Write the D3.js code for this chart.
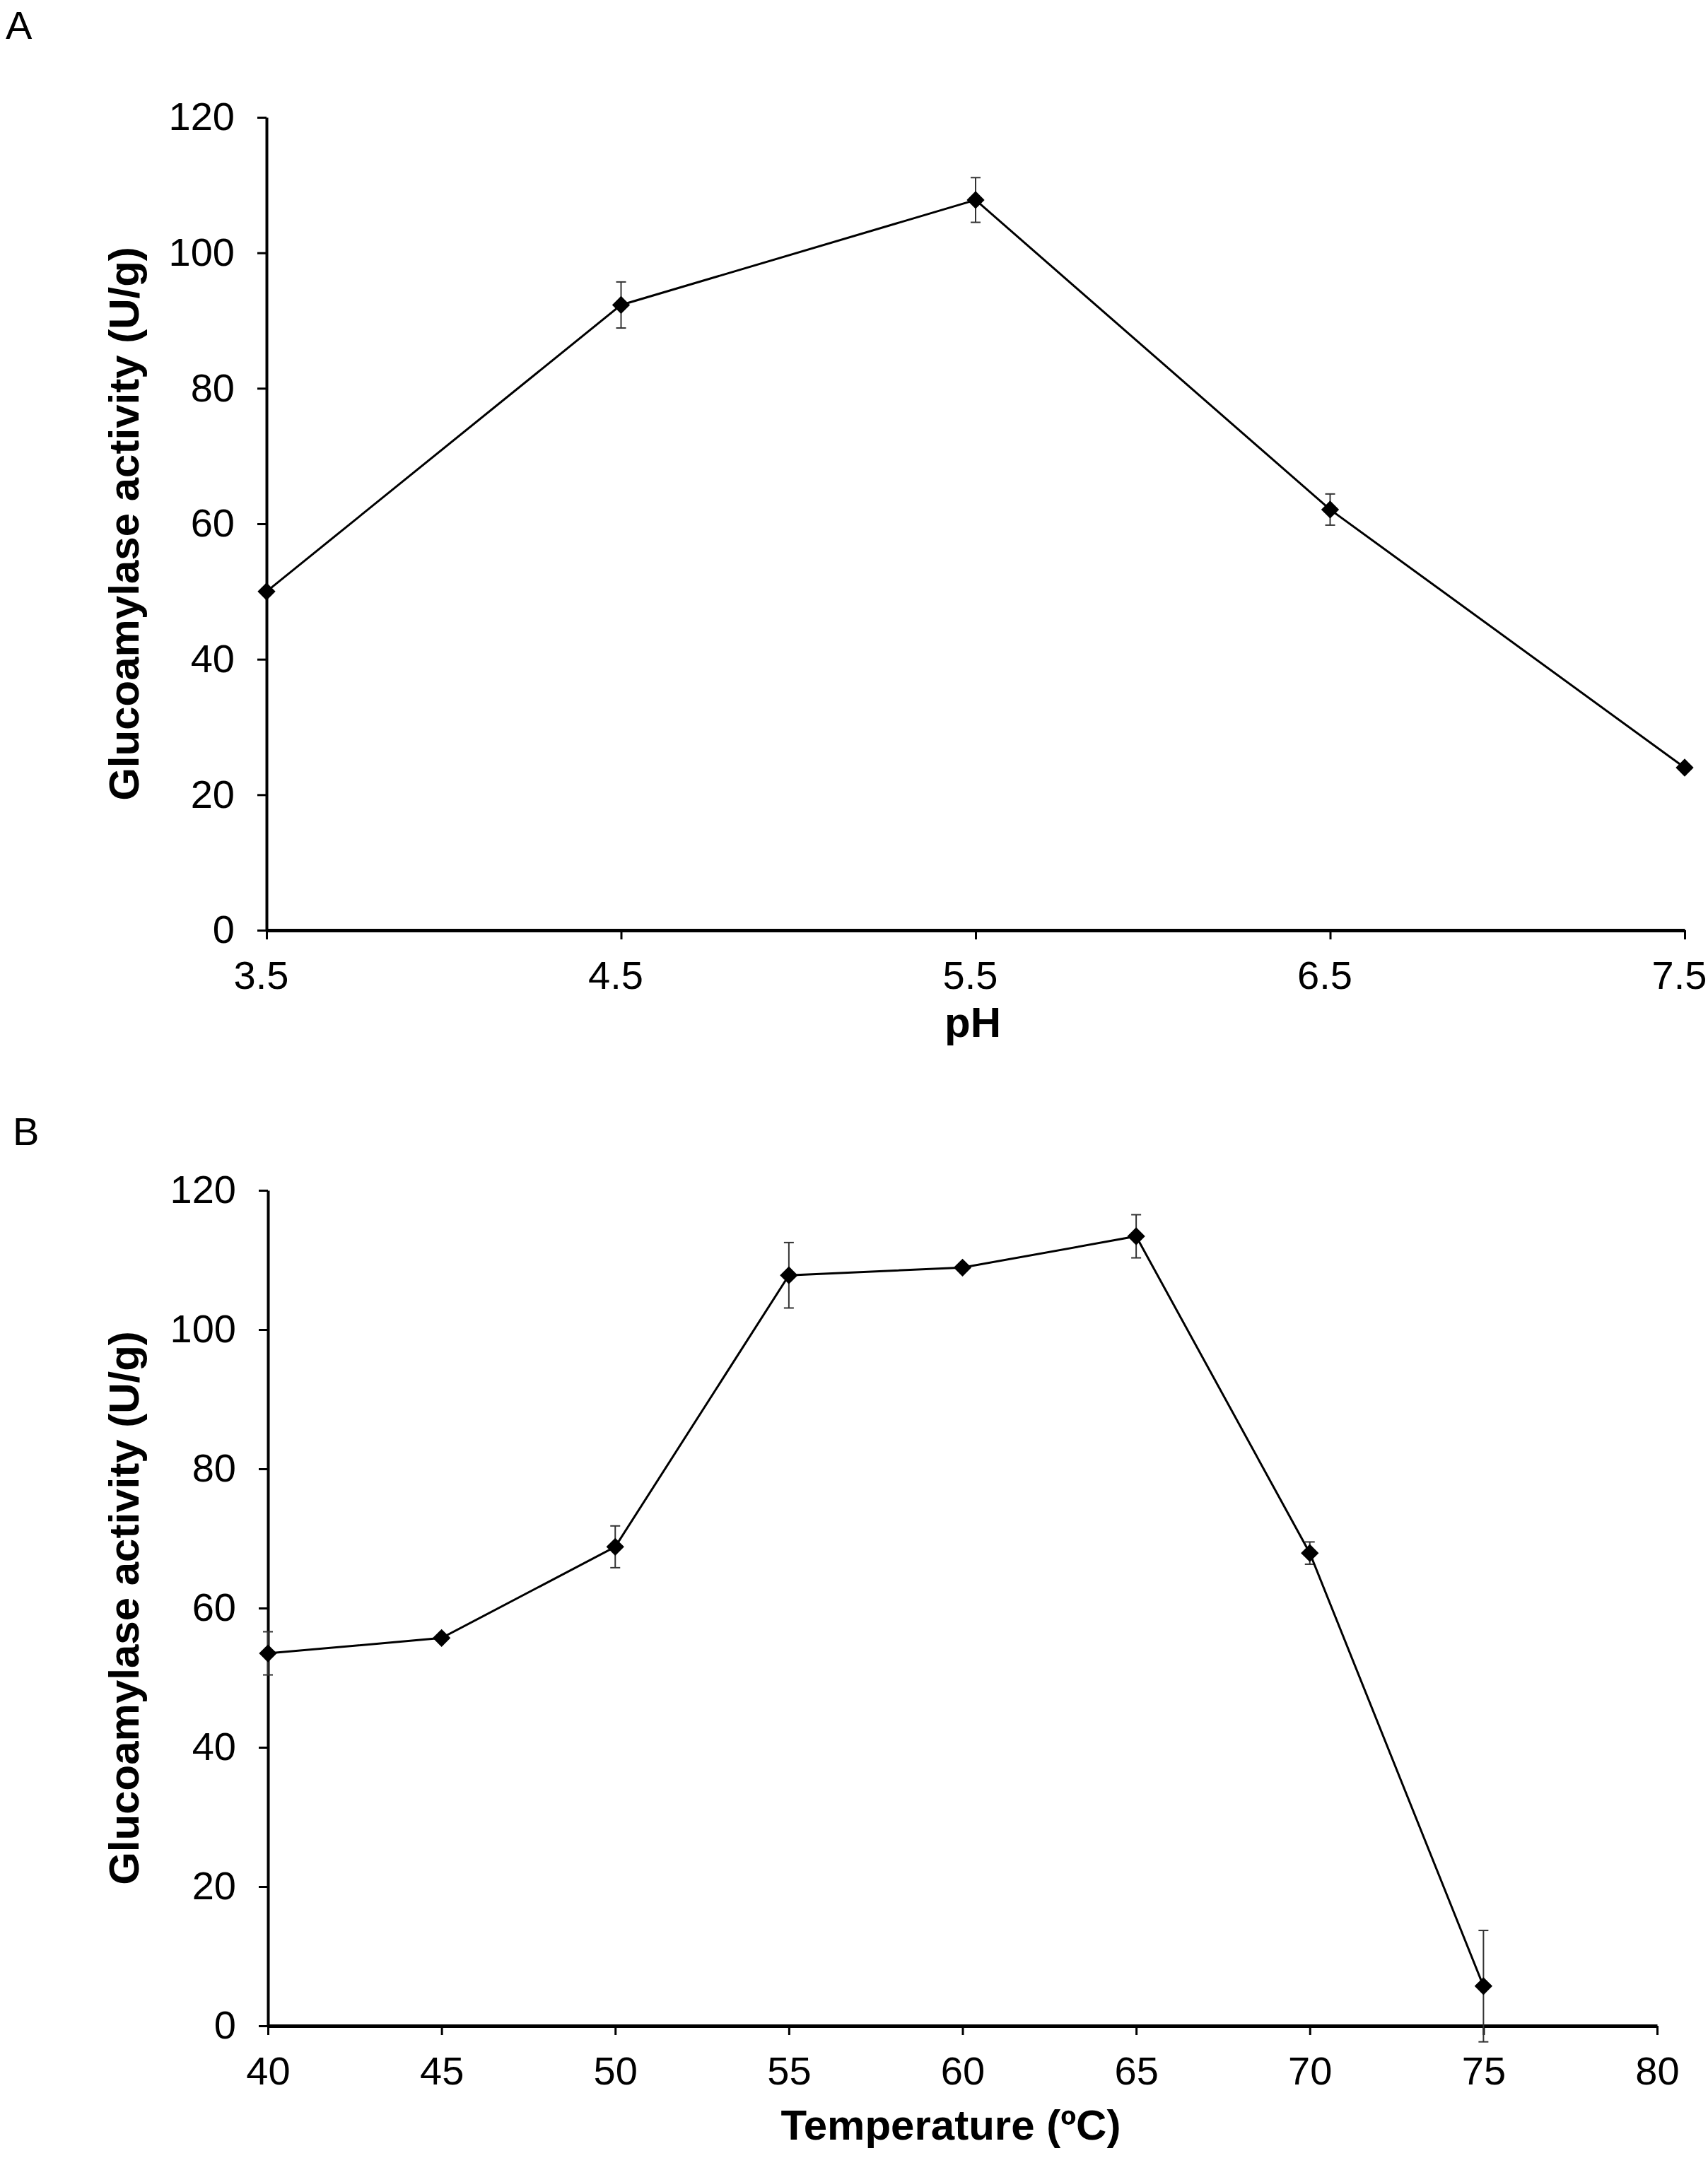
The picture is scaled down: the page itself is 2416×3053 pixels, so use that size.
<!DOCTYPE html>
<html lang="en">
<head>
    <meta charset="UTF-8">
    <title>Glucoamylase activity vs pH and temperature</title>
    <script src="https://d3js.org/d3.v7.min.js"></script>
    <style>
        body {
            margin: 0;
            background: #fff;
            font-family: "Liberation Sans", Arial, sans-serif;
        }
        .axis text {
            font-size: 56px;
            font-family: "Liberation Sans", Arial, sans-serif;
            fill: #000;
        }
        .axis line {
            stroke: #000;
            stroke-width: 3px;
        }
        .title {
            font-size: 60px;
            font-weight: bold;
        }
        .panel-label {
            font-size: 56px;
        }
    </style>
</head>
<body>
    <svg width="2416" height="3053"></svg>
    <script>
        // panel A: pH
        const phValues = [3.5, 4.5, 5.5, 6.5, 7.5];
        const phActivity = [50.0, 92.3, 107.8, 62.1, 24.0];
        const phError = [0.5, 3.4, 3.3, 2.3, 0.4];
        const phTicks = [3.5, 4.5, 5.5, 6.5, 7.5];

        // panel B: temperature
        const tempValues = [40, 45, 50, 55, 60, 65, 70, 75];
        const tempActivity = [53.5, 55.7, 68.8, 107.8, 108.9, 113.4, 67.9, 5.7];
        const tempError = [3.1, 0.3, 3.0, 4.7, 0.4, 3.1, 1.6, 8.0];
        const tempTicks = [40, 45, 50, 55, 60, 65, 70, 75, 80];

        const activityTicks = [0, 20, 40, 60, 80, 100, 120];

        const svg = d3.select("svg");

        svg.append("rect")
            .attr("width", 2416)
            .attr("height", 3053)
            .attr("fill", "#fff");

        function drawPanel(opt) {
            const x = d3.scaleLinear().domain(opt.xDomain).range([opt.left, opt.right]);
            const y = d3.scaleLinear().domain([0, 120]).range([opt.bottom, opt.top]);
            const pts = opt.xs.map((v, i) => ({ x: v, y: opt.ys[i], e: opt.errs[i] }));

            const g = svg.append("g");

            // y axis
            const yAxis = g.append("g")
                .attr("class", "axis")
                .attr("transform", `translate(${opt.left},0)`)
                .call(d3.axisLeft(y).tickValues(activityTicks).tickSize(13).tickSizeOuter(0).tickPadding(32));
            yAxis.select(".domain").attr("stroke", "#000").attr("stroke-width", 4);

            // x axis
            const xAxis = g.append("g")
                .attr("class", "axis")
                .attr("transform", `translate(0,${opt.bottom})`)
                .call(d3.axisBottom(x).tickValues(opt.xTicks).tickSize(13).tickSizeOuter(0)
                    .tickPadding(30).tickFormat(opt.xFormat));
            xAxis.select(".domain").attr("stroke", "#000").attr("stroke-width", 5);
            xAxis.selectAll("text").attr("dy", "0.71em").attr("dx", opt.labelShift);

            // error bars
            const eb = g.append("g")
                .attr("stroke", "#333")
                .attr("stroke-width", 2)
                .selectAll("g")
                .data(pts)
                .join("g");
            eb.append("line")
                .attr("x1", d => x(d.x)).attr("x2", d => x(d.x))
                .attr("y1", d => y(d.y + d.e)).attr("y2", d => y(d.y - d.e));
            eb.append("line")
                .attr("x1", d => x(d.x) - 7).attr("x2", d => x(d.x) + 7)
                .attr("y1", d => y(d.y + d.e)).attr("y2", d => y(d.y + d.e));
            eb.append("line")
                .attr("x1", d => x(d.x) - 7).attr("x2", d => x(d.x) + 7)
                .attr("y1", d => y(d.y - d.e)).attr("y2", d => y(d.y - d.e));

            // line
            g.append("path")
                .datum(pts)
                .attr("fill", "none")
                .attr("stroke", "#000")
                .attr("stroke-width", 3)
                .attr("d", d3.line().x(d => x(d.x)).y(d => y(d.y)));

            // diamond markers
            g.selectAll(".marker")
                .data(pts)
                .join("path")
                .attr("class", "marker")
                .attr("fill", "#000")
                .attr("d", d3.symbol(d3.symbolSquare, 320))
                .attr("transform", d => `translate(${x(d.x)},${y(d.y)}) rotate(45)`);

            // axis titles
            g.append("text")
                .attr("class", "title")
                .attr("text-anchor", "middle")
                .attr("transform", `translate(196,${(opt.top + opt.bottom) / 2}) rotate(-90)`)
                .text("Glucoamylase activity (U/g)");

            g.append("text")
                .attr("class", "title")
                .attr("text-anchor", "middle")
                .attr("x", opt.titleX)
                .attr("y", opt.titleY)
                .text(opt.xTitle);

            g.append("text")
                .attr("class", "panel-label")
                .attr("x", opt.labelX)
                .attr("y", opt.labelY)
                .text(opt.label);
        }

        drawPanel({
            xs: phValues, ys: phActivity, errs: phError,
            xDomain: [3.5, 7.5], xTicks: phTicks, xFormat: d3.format(".1f"), labelShift: -8,
            left: 377, right: 2383, top: 166, bottom: 1316,
            xTitle: "pH", titleX: 1376, titleY: 1467,
            label: "A", labelX: 8, labelY: 55
        });

        drawPanel({
            xs: tempValues, ys: tempActivity, errs: tempError,
            xDomain: [40, 80], xTicks: tempTicks, xFormat: d3.format("d"), labelShift: 0,
            left: 379, right: 2344, top: 1684, bottom: 2866,
            xTitle: "Temperature (ºC)", titleX: 1345, titleY: 3027,
            label: "B", labelX: 18, labelY: 1620
        });
    </script>
</body>
</html>
